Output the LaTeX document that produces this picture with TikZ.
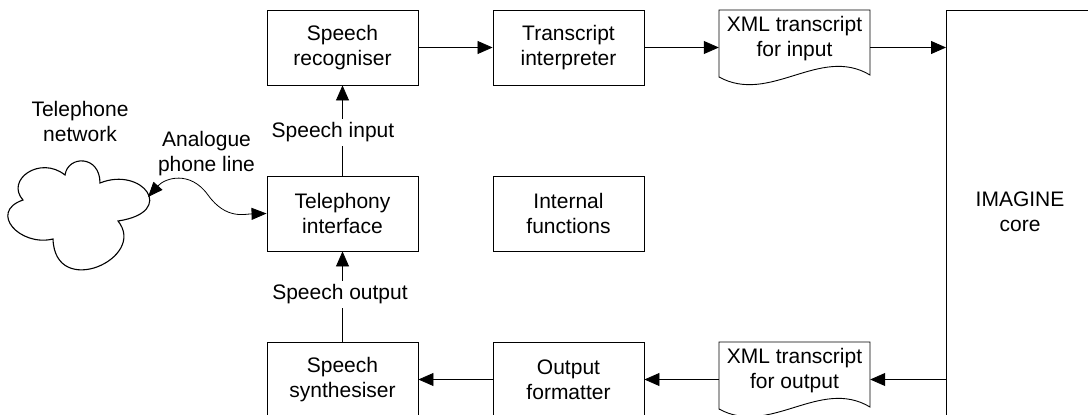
\documentclass[tikz,border=0pt]{standalone}
\usepackage{fontspec}
\setmainfont{Liberation Sans}
\usetikzlibrary{arrows.meta,calc}
\begin{document}
\begin{tikzpicture}[x=1pt,y=-1pt,
  every node/.style={font=\fontsize{21}{25}\selectfont, align=center, inner sep=0pt},
  box/.style={draw, line width=0.9pt, minimum width=151pt, minimum height=75pt},
  doc/.style={minimum width=151pt},
  lbl/.style={fill=white, inner sep=4pt},
  arr/.style={line width=0.8pt, -{Triangle[length=15pt,width=13pt]}},
  biarr/.style={line width=0.8pt, {Triangle[length=15pt,width=12pt]}-{Triangle[length=15pt,width=12pt]}},
  outline/.style={draw, line width=0.9pt}]
\useasboundingbox (0,0) rectangle (1088,415);
\clip (0,0) rectangle (1088,415);

% boxes
\node[box] (recog) at (342.5,47.5) {Speech\\recogniser};
\node[box] (interp) at (568.5,47.5) {Transcript\\interpreter};
\node[box] (tel) at (342.5,213.5) {Telephony\\interface};
\node[box] (internal) at (568.5,213.5) {Internal\\functions};
\node[box] (synth) at (342.5,379.5) {Speech\\synthesiser};
\node[box] (fmt) at (568.5,379.5) {Output\\formatter};

% document shapes
\coordinate (xmlinNW) at (719,10);
\coordinate (xmloutNW) at (719,342);
\draw[outline] (xmlinNW) -- ++(151,0) -- ++(0,65)
  .. controls ($(xmlinNW)+(101,35)$) and ($(xmlinNW)+(51,95)$) .. ($(xmlinNW)+(0,67)$) -- cycle;
\draw[outline] (xmloutNW) -- ++(151,0) -- ++(0,65)
  .. controls ($(xmloutNW)+(101,35)$) and ($(xmloutNW)+(51,95)$) .. ($(xmloutNW)+(0,67)$) -- cycle;
\node[doc] (xmlin) at (794.5,38.5) {XML transcript\\for input};
\node[doc] (xmlout) at (794.5,370.5) {XML transcript\\for output};

% IMAGINE core
\node[draw, line width=0.9pt, anchor=north west, minimum width=200pt, minimum height=500pt] (core) at (946,10) {};
\node (corelbl) at (1020,211.5) {IMAGINE\\core};

% cloud
\draw[line width=1.1pt] (53,239) .. controls (20,247) and (-12,212) .. (23,200)
  .. controls (5,180) and (40,155) .. (65,175)
  .. controls (68,155) and (100,155) .. (100,183)
  .. controls (142,166) and (178,212) .. (118,221)
  .. controls (148,258) and (55,300) .. (53,239) -- cycle;
\coordinate (cloudE) at (148,197);
\node (tnet) at (80,121.4) {Telephone\\network};

% connectors
\draw[arr] (recog.east) -- (interp.west);
\draw[arr] (interp.east) -- (interp.east -| xmlin.west);
\draw[arr] (xmlin.east |- recog.east) -- (recog.east -| core.west);
\draw[arr] (synth.east -| core.west) -- (synth.east -| xmlout.east);
\draw[arr] (synth.east -| xmlout.west) -- (fmt.east);
\draw[arr] (fmt.west) -- (synth.east);
\draw[arr] (tel.north) -- (recog.south);
\draw[arr] (synth.north) -- (tel.south);
\node[lbl] (sin) at (333,132.5) {Speech input};
\node[lbl] (sout) at (340,294.5) {Speech output};

\draw[biarr] (cloudE) .. controls (165,178) and (190,170) .. (208,195)
  .. controls (226,220) and (245,214) .. (tel.west);
\node (aline) at (206.5,153.5) {Analogue\\phone line};
\end{tikzpicture}
\end{document}
